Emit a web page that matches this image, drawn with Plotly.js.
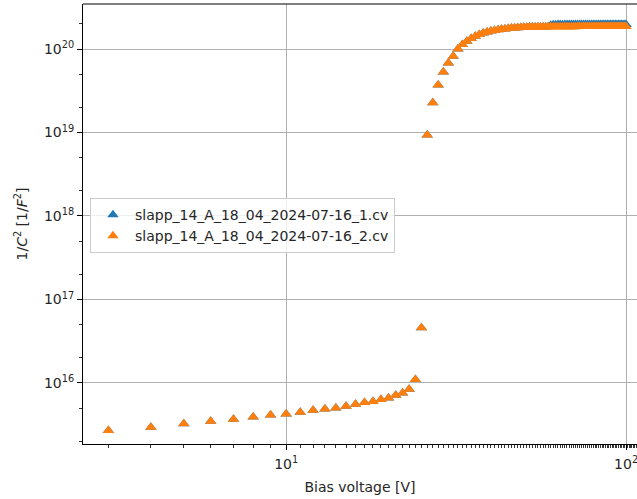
<!DOCTYPE html>
<html>
<head>
<meta charset="utf-8">
<script src="https://cdn.plot.ly/plotly-3.0.1.min.js"></script>
<style>html,body{margin:0;padding:0;background:#fff;overflow:hidden;}#chart{width:637px;height:499px;}</style>
</head>
<body>
<div id="chart"></div>
<script>
var voltage = [3,4,5,6,7,8,9,10,11,12,13,14,15,16,17,18,19,20,21,22,23,24,25,26,27,28,29,30,
  31,32,33,34,35,36,37,38,39,40,41,42,43,44,45,46,47,48,49,50,
  51,52,53,54,55,56,57,58,59,60,61,62,63,64,65,66,67,68,69,70,
  71,72,73,74,75,76,77,78,79,80,81,82,83,84,85,86,87,88,89,90,
  91,92,93,94,95,96,97,98,99,100];

var invC2_run2 = [2.69e15,2.94e15,3.25e15,3.48e15,3.67e15,3.92e15,4.12e15,4.26e15,4.46e15,4.72e15,
  4.88e15,5.0e15,5.28e15,5.55e15,5.82e15,5.98e15,6.35e15,6.6e15,7.15e15,7.6e15,
  8.4e15,1.1e16,4.6e16,9.3e18,2.27e19,3.7e19,5.3e19,6.8e19,
  8.2e19,1.0e20,1.13e20,1.24e20,1.34e20,1.42e20,1.49e20,1.55e20,1.60e20,1.64e20,
  1.67e20,1.70e20,1.72e20,1.74e20,1.76e20,1.78e20,1.79e20,1.80e20,1.81e20,1.82e20,
  1.82e20,1.83e20,1.83e20,1.83e20,1.84e20,1.84e20,1.84e20,1.84e20,1.85e20,1.85e20,
  1.85e20,1.85e20,1.85e20,1.85e20,1.85e20,1.85e20,1.85e20,1.85e20,1.85e20,1.85e20,
  1.85e20,1.86e20,1.86e20,1.86e20,1.86e20,1.86e20,1.86e20,1.86e20,1.86e20,1.86e20,
  1.86e20,1.86e20,1.86e20,1.86e20,1.86e20,1.86e20,1.86e20,1.86e20,1.86e20,1.86e20,
  1.86e20,1.86e20,1.86e20,1.86e20,1.86e20,1.86e20,1.86e20,1.86e20,1.86e20,1.86e20];

var invC2_run1 = [2.69e15,2.94e15,3.25e15,3.48e15,3.67e15,3.92e15,4.12e15,4.26e15,4.46e15,4.72e15,
  4.88e15,5.0e15,5.28e15,5.55e15,5.82e15,5.98e15,6.35e15,6.6e15,7.15e15,7.6e15,
  8.4e15,1.1e16,4.6e16,9.3e18,2.27e19,3.7e19,5.3e19,6.8e19,
  8.2e19,1.0e20,1.13e20,1.24e20,1.34e20,1.42e20,1.49e20,1.55e20,1.60e20,1.64e20,
  1.67e20,1.70e20,1.72e20,1.74e20,1.76e20,1.78e20,1.79e20,1.80e20,1.81e20,1.82e20,
  1.82e20,1.83e20,1.83e20,1.83e20,1.84e20,1.84e20,1.84e20,1.84e20,1.85e20,1.93e20,
  1.95e20,1.95e20,1.96e20,1.96e20,1.95e20,1.96e20,1.96e20,1.96e20,1.97e20,1.96e20,
  1.96e20,1.97e20,1.96e20,1.97e20,1.97e20,1.96e20,1.97e20,1.97e20,1.97e20,1.96e20,
  1.97e20,1.97e20,1.97e20,1.97e20,1.97e20,1.97e20,1.97e20,1.97e20,1.97e20,1.97e20,
  1.97e20,1.97e20,1.97e20,1.97e20,1.97e20,1.97e20,1.97e20,1.97e20,1.97e20,1.97e20];

var seriesNames = ["slapp_14_A_18_04_2024-07-16_1.cv", "slapp_14_A_18_04_2024-07-16_2.cv"];
var xTickVals = [10, 100];
var xTickText = ["10<sup>1</sup>", "10<sup>2</sup>"];
var yTickVals = [1e16, 1e17, 1e18, 1e19, 1e20];
var yTickText = ["10<sup>16</sup>", "10<sup>17</sup>", "10<sup>18</sup>", "10<sup>19</sup>", "10<sup>20</sup>"];

var font = {family: "DejaVu Sans, sans-serif", size: 14, color: "#262626"};

var traces = [
  {x: voltage, y: invC2_run1, name: seriesNames[0], type: "scatter", mode: "markers",
   marker: {symbol: "triangle-up", size: 10, color: "#1f77b4"}},
  {x: voltage, y: invC2_run2, name: seriesNames[1], type: "scatter", mode: "markers",
   marker: {symbol: "triangle-up", size: 10, color: "#ff7f0e"}}
];

var axisCommon = {
  type: "log", showgrid: true, gridcolor: "#b0b0b0", gridwidth: 1,
  showline: true, linecolor: "#000", linewidth: 1,
  ticks: "outside", ticklen: 5, tickwidth: 1, tickcolor: "#000",
  tickfont: font, zeroline: false, ticklabeloverflow: "allow",
  minor: {ticks: "outside", ticklen: 3, tickwidth: 0.8, tickcolor: "#000", showgrid: false}
};

var layout = {
  width: 637, height: 499,
  margin: {l: 83, r: 0, t: 4, b: 55},
  paper_bgcolor: "#fff", plot_bgcolor: "#fff",
  showlegend: true,
  xaxis: Object.assign({}, axisCommon, {
    range: [0.4024, 2.032], tickmode: "array", tickvals: xTickVals, ticktext: xTickText,
    mirror: false, ticklabelstandoff: 2,
    title: {text: "Bias voltage [V]", font: font, standoff: 11}
  }),
  yaxis: Object.assign({}, axisCommon, {
    range: [15.269, 20.539], tickmode: "array", tickvals: yTickVals, ticktext: yTickText,
    title: {text: "1/<i>C</i><sup>2</sup> [1/<i>F</i><sup>2</sup>]", font: font, standoff: 13}
  }),
  shapes: [{type: "line", xref: "paper", yref: "paper", x0: 0, x1: 1, y0: 1, y1: 1,
            line: {color: "#000", width: 1}}],
  legend: {x: 0.0126, y: 0.559, xanchor: "left", yanchor: "top",
           bgcolor: "rgba(255,255,255,0.8)", bordercolor: "#cccccc", borderwidth: 1,
           font: font, tracegroupgap: 0, itemwidth: 34}
};

Plotly.newPlot("chart", traces, layout, {displayModeBar: false, staticPlot: true});
</script>
</body>
</html>
